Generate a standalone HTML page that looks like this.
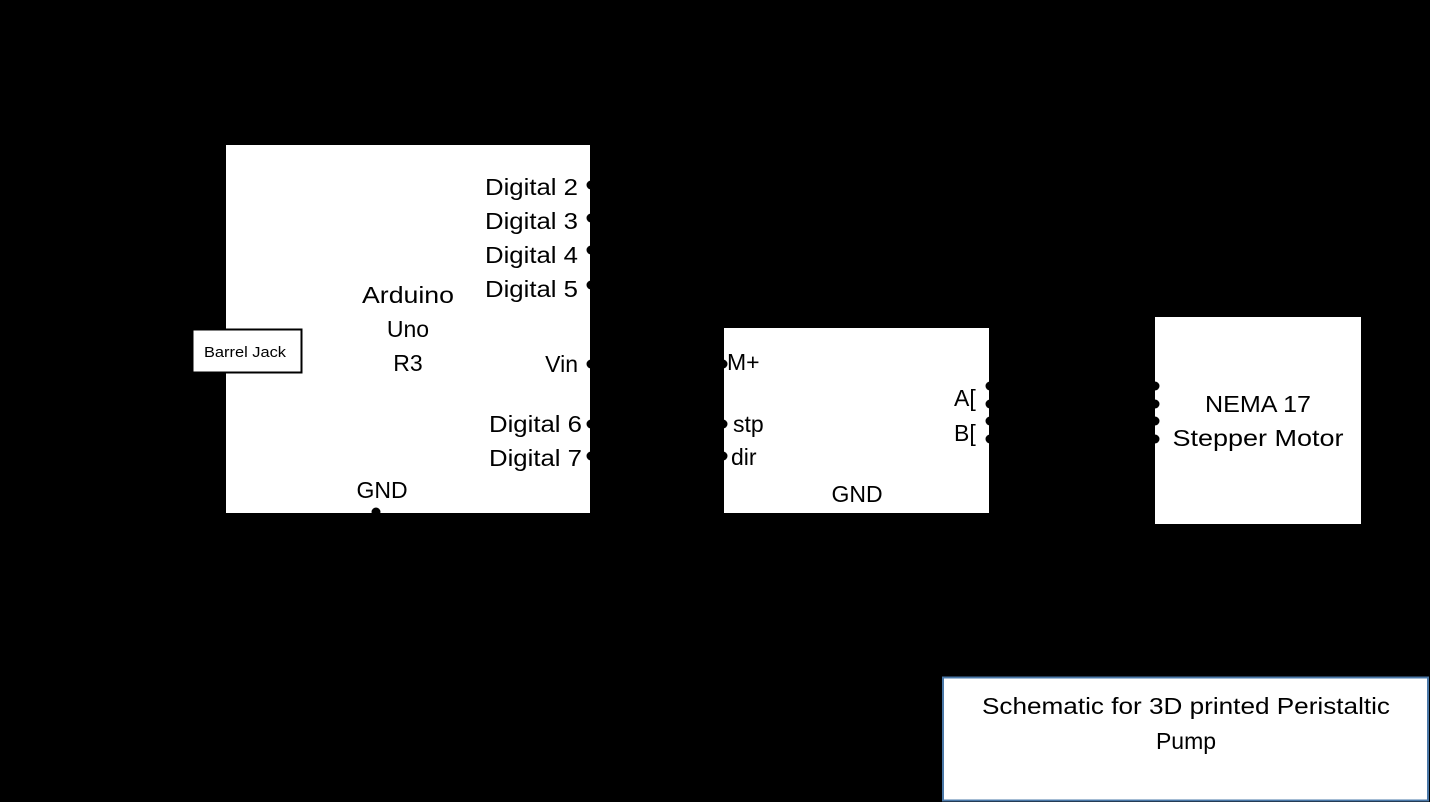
<!DOCTYPE html>
<html><head><meta charset="utf-8"><style>
html,body{margin:0;padding:0;background:#000;}
svg{display:block}
text{font-family:"Liberation Sans",sans-serif;fill:#000;}
</style></head><body>
<svg width="1430" height="802" viewBox="0 0 1430 802">
<rect width="1430" height="802" fill="#000"/>
<rect x="226" y="145" width="364" height="368" fill="#fff"/>
<rect x="192.5" y="329.5" width="109" height="43" fill="#fff" stroke="#000" stroke-width="2"/>
<rect x="724" y="328" width="265" height="185" fill="#fff"/>
<rect x="1155" y="317" width="206" height="207" fill="#fff"/>
<rect x="943" y="677.5" width="485" height="123" fill="#fff" stroke="#4a78a8" stroke-width="2"/>
<g font-size="23">
<text x="578" y="195" text-anchor="end" textLength="93" lengthAdjust="spacingAndGlyphs">Digital 2</text>
<text x="578" y="229" text-anchor="end" textLength="93" lengthAdjust="spacingAndGlyphs">Digital 3</text>
<text x="578" y="263" text-anchor="end" textLength="93" lengthAdjust="spacingAndGlyphs">Digital 4</text>
<text x="578" y="297" text-anchor="end" textLength="93" lengthAdjust="spacingAndGlyphs">Digital 5</text>
<text x="578" y="372" text-anchor="end">Vin</text>
<text x="582" y="432" text-anchor="end" textLength="93" lengthAdjust="spacingAndGlyphs">Digital 6</text>
<text x="582" y="466" text-anchor="end" textLength="93" lengthAdjust="spacingAndGlyphs">Digital 7</text>
<text x="408" y="303" text-anchor="middle" textLength="92" lengthAdjust="spacingAndGlyphs">Arduino</text>
<text x="408" y="337" text-anchor="middle">Uno</text>
<text x="408" y="371" text-anchor="middle">R3</text>
<text x="382" y="498" text-anchor="middle">GND</text>
<text x="727" y="370">M+</text>
<text x="733" y="432">stp</text>
<text x="731" y="465">dir</text>
<text x="857" y="502" text-anchor="middle">GND</text>
<text x="954" y="406">A[</text>
<text x="954" y="441">B[</text>
<text x="1258" y="412" text-anchor="middle" textLength="106" lengthAdjust="spacingAndGlyphs">NEMA 17</text>
<text x="1258" y="446" text-anchor="middle" textLength="171" lengthAdjust="spacingAndGlyphs">Stepper Motor</text>
<text x="1186" y="714" text-anchor="middle" textLength="408" lengthAdjust="spacingAndGlyphs">Schematic for 3D printed Peristaltic</text>
<text x="1186" y="749" text-anchor="middle">Pump</text>
</g>
<text x="245" y="357" font-size="15" text-anchor="middle" textLength="82" lengthAdjust="spacingAndGlyphs">Barrel Jack</text>
<g fill="#000">
<circle cx="591" cy="185" r="4.5"/><circle cx="591" cy="218" r="4.5"/>
<circle cx="591" cy="250" r="4.5"/><circle cx="591" cy="285" r="4.5"/>
<circle cx="591" cy="364" r="4.5"/><circle cx="591" cy="424" r="4.5"/>
<circle cx="591" cy="456" r="4.5"/>
<circle cx="723" cy="364" r="4.5"/><circle cx="723" cy="424" r="4.5"/>
<circle cx="723" cy="456" r="4.5"/>
<circle cx="990" cy="386" r="4.5"/><circle cx="990" cy="404" r="4.5"/>
<circle cx="990" cy="421" r="4.5"/><circle cx="990" cy="439" r="4.5"/>
<circle cx="1155" cy="386" r="4.5"/><circle cx="1155" cy="404" r="4.5"/>
<circle cx="1155" cy="421" r="4.5"/><circle cx="1155" cy="439" r="4.5"/>
<circle cx="376" cy="512" r="4.5"/>
</g>
</svg>
</body></html>
